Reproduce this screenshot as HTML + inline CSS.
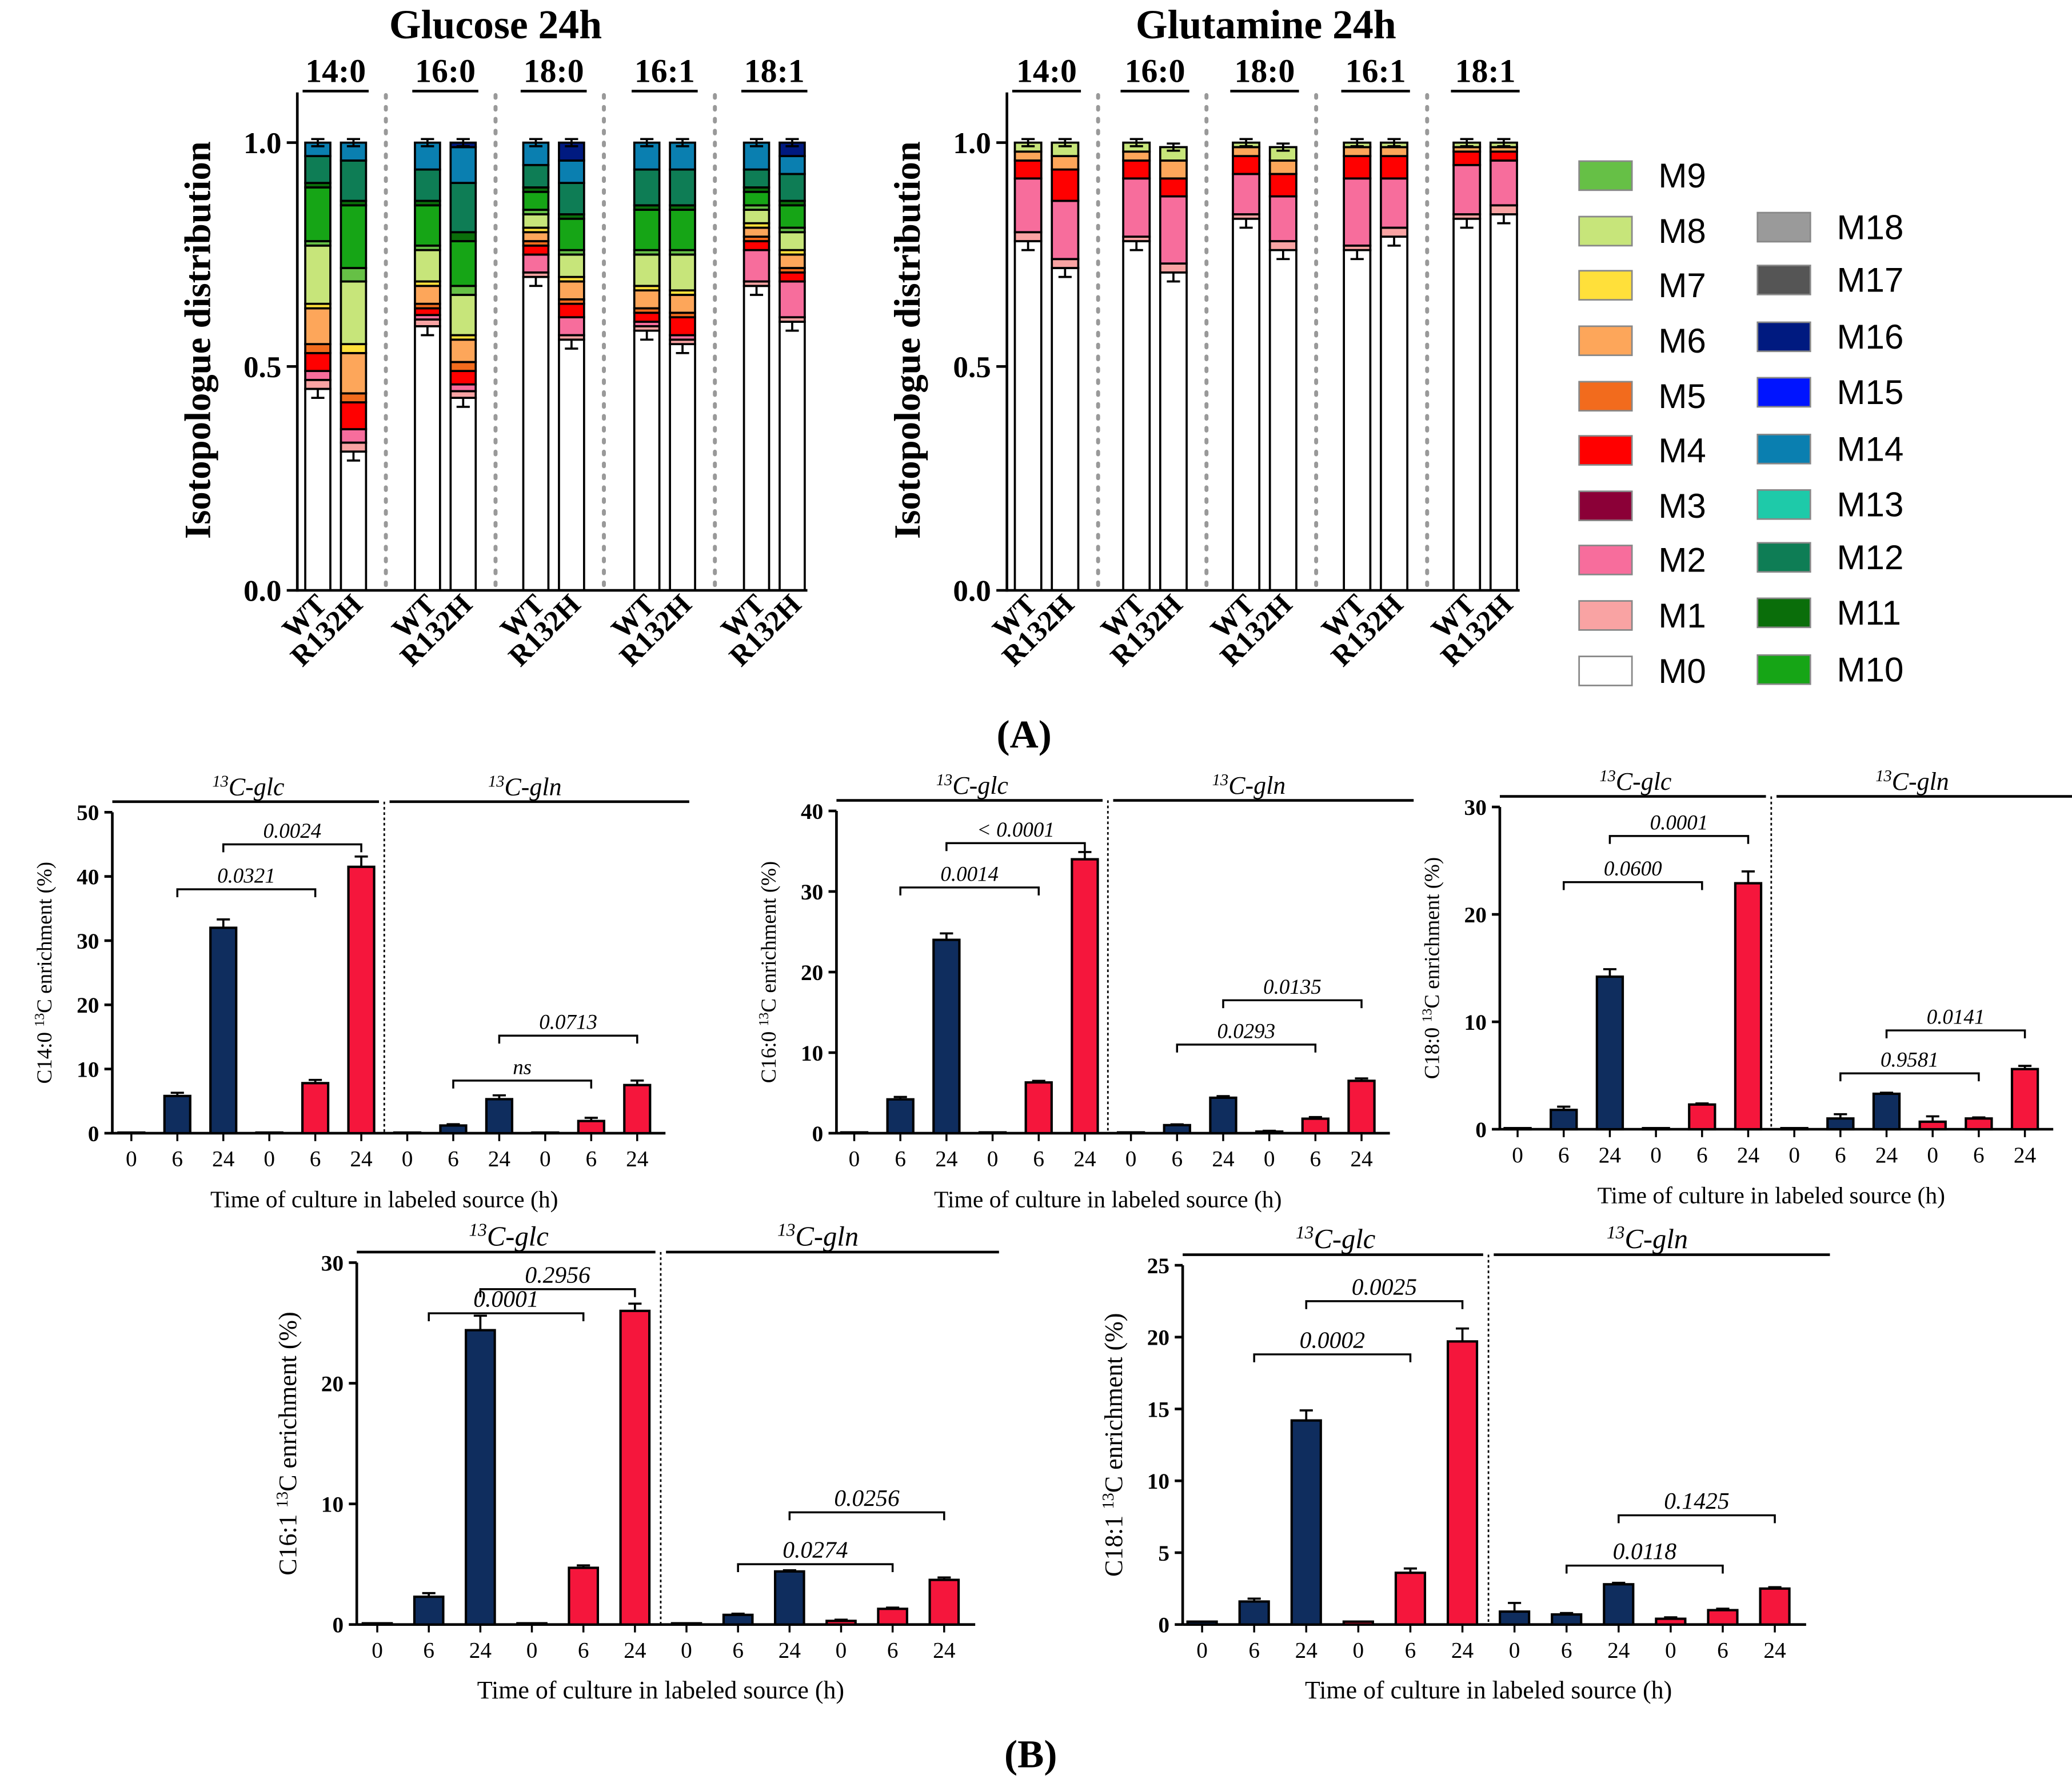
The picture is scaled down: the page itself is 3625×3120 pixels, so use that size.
<!DOCTYPE html>
<html><head><meta charset="utf-8"><style>
html,body{margin:0;padding:0;background:#fff;}
svg{display:block;font-family:"Liberation Serif",serif;}
</style></head><body>
<svg id="fig" width="3625" height="3120" viewBox="0 0 1568 1350" preserveAspectRatio="none" xmlns="http://www.w3.org/2000/svg">
<rect width="1568" height="1350" fill="#fff"/>
<g id="panelA"></g>
<g id="legend"></g>
<g id="panelB"></g>
<text x="775" y="566" text-anchor="middle" font-size="30" font-weight="bold">(A)</text>
<text x="780" y="1338" text-anchor="middle" font-size="30" font-weight="bold">(B)</text>
</svg>
<script>
// ---------- Panel A data ----------
const isoNames = ["M0","M1","M2","M3","M4","M5","M6","M7","M8","M9","M10","M11","M12","M13","M14","M15","M16","M17","M18"];
const isoColors = ["#ffffff","#f9a3a3","#f76d9c","#8b0037","#ff0000","#f26b1d","#fda65a","#ffe03a","#c7e57a","#66c046","#16a516","#0a6e0a","#0e7d55","#1ecaa9","#0a7fb0","#0014ff","#001a80","#555555","#9a9a9a"];
const lipids = ["14:0","16:0","18:0","16:1","18:1"];
const genotypes = ["WT","R132H"];
const glcOrder = [0,1,2,4,5,6,7,8,9,10,11,12,14,16];
const glcTops = [
 [.45,.47,.49,.53,.55,.63,.64,.77,.78,.90,.91,.97,1.0,1.0],
 [.31,.33,.36,.42,.44,.53,.55,.69,.72,.86,.87,.96,1.0,1.0],
 [.59,.605,.615,.63,.64,.68,.69,.76,.77,.86,.87,.94,1.0,1.0],
 [.43,.445,.46,.49,.51,.56,.57,.66,.68,.78,.80,.91,.99,1.0],
 [.70,.71,.75,.77,.78,.80,.81,.84,.85,.89,.90,.95,1.0,1.0],
 [.56,.57,.61,.64,.65,.69,.70,.75,.76,.83,.84,.91,.96,1.0],
 [.58,.59,.60,.62,.63,.67,.68,.75,.76,.85,.86,.94,1.0,1.0],
 [.55,.56,.57,.61,.62,.66,.67,.75,.76,.85,.86,.94,1.0,1.0],
 [.68,.69,.76,.78,.79,.81,.82,.85,.86,.89,.90,.94,1.0,1.0],
 [.60,.61,.69,.71,.72,.75,.76,.80,.81,.86,.87,.93,.97,1.0]
];
const glnOrder = [0,1,2,4,6,8];
const glnTops = [
 [.78,.80,.92,.96,.98,1.0],
 [.72,.74,.87,.94,.97,1.0],
 [.78,.79,.92,.96,.98,1.0],
 [.71,.73,.88,.92,.96,.99],
 [.83,.84,.93,.97,.99,1.0],
 [.76,.78,.88,.93,.96,.99],
 [.76,.77,.92,.97,.99,1.0],
 [.79,.81,.92,.97,.99,1.0],
 [.83,.84,.95,.98,.99,1.0],
 [.84,.86,.96,.98,.99,1.0]
];
const stackTicks = ["0.0","0.5","1.0"];
const NS="http://www.w3.org/2000/svg";
function el(tag,attrs,parent,text){const e=document.createElementNS(NS,tag);for(const k in attrs)e.setAttribute(k,attrs[k]);if(text!==undefined)e.textContent=text;parent.appendChild(e);return e;}

function drawStack(g,cfg,tops,order,title){
  const y=v=>cfg.y0-(cfg.y0-cfg.y1)*v;
  const t=el("text",{x:cfg.titleX,y:29,"text-anchor":"middle","font-size":31,"font-weight":"bold"},g,title);
  
  
  const yl=el("text",{transform:`translate(${cfg.ax-66},${(cfg.y0+cfg.y1)/2-20}) rotate(-90)`,"text-anchor":"middle","font-size":28,"font-weight":"bold"},g,"Isotopologue distribution");
  
  
  const ax=el("line",{x1:cfg.ax,x2:cfg.ax,y1:cfg.y0+1,y2:cfg.y1-38,stroke:"#000","stroke-width":2},g);
  
  
  stackTicks.forEach(s=>{const v=parseFloat(s);
    el("line",{x1:cfg.ax-8,x2:cfg.ax,y1:y(v),y2:y(v),stroke:"#000","stroke-width":2},g);
    const tl=el("text",{x:cfg.ax-12,y:y(v)+8,"text-anchor":"end","font-size":23,"font-weight":"bold"},g,s);
    
    
  });
  lipids.forEach((lp,li)=>{
    const gx=cfg.groups[li];
    const ht=el("text",{x:gx+cfg.bw+4,y:62,"text-anchor":"middle","font-size":25,"font-weight":"bold"},g,lp);
    
    
    el("line",{x1:gx-2,x2:gx+2*cfg.bw+10,y1:69,y2:69,stroke:"#000","stroke-width":2},g);
    if(li<4){const d=el("line",{x1:gx+2*cfg.bw+23,x2:gx+2*cfg.bw+23,y1:72,y2:cfg.y0,stroke:"#999","stroke-width":3,"stroke-dasharray":"2,7","stroke-linecap":"round"},g);
      
      }
    genotypes.forEach((gt,gi)=>{
      const bi=li*2+gi; const bx=gx+gi*(cfg.bw+8);
      let prev=0;
      tops[bi].forEach((tp,k)=>{
        const r=el("rect",{x:bx,y:y(tp),width:cfg.bw,height:Math.max(0,y(prev)-y(tp)),fill:isoColors[order[k]],stroke:"#000","stroke-width":1.6},g);
        
        
        if(k===0||k===tops[bi].length-1){const e=(k===0?0.02:0.008);const cx=bx+cfg.bw/2;
          el("line",{x1:cx,x2:cx,y1:y(tp+e),y2:y(tp-e),stroke:"#000","stroke-width":1.6},g);
          el("line",{x1:cx-5,x2:cx+5,y1:y(tp+e),y2:y(tp+e),stroke:"#000","stroke-width":1.6},g);
          el("line",{x1:cx-5,x2:cx+5,y1:y(tp-e),y2:y(tp-e),stroke:"#000","stroke-width":1.6},g);}
        prev=tp;
      });
      const xl=el("text",{transform:`translate(${bx+cfg.bw/2+8},${cfg.y0+12}) rotate(-45)`,"text-anchor":"end","font-size":22,"font-weight":"bold"},g,gt);
      
      
    });
  });
  el("line",{x1:cfg.ax,x2:cfg.groups[4]+2*cfg.bw+10,y1:cfg.y0,y2:cfg.y0,stroke:"#000","stroke-width":2},g);
}
const pA=document.getElementById("panelA");
drawStack(pA,{ax:225,y0:447,y1:108,bw:19,titleX:375,groups:[231,314,396,480,563]},glcTops,glcOrder,"Glucose 24h");
drawStack(pA,{ax:762,y0:447,y1:108,bw:20,titleX:958,groups:[768,850,933,1017,1100]},glnTops,glnOrder,"Glutamine 24h");

// legend
const leg=document.getElementById("legend");
const legLeft=[9,8,7,6,5,4,3,2,1,0], legLeftY=[133,175,216,258,300,341,383,424,466,508];
const legRight=[18,17,16,15,14,13,12,11,10], legRightY=[172,212,255,297,340,382,422,464,507];
function legItem(i,x,yy){const gg=el("g",{},leg);
  
  
  el("rect",{x:x,y:yy-11,width:40,height:22,fill:isoColors[i],stroke:"#888","stroke-width":1.2},gg);
  el("text",{x:x+60,y:yy+9,"font-size":26,"font-family":"Liberation Sans, sans-serif"},gg,isoNames[i]);}
legLeft.forEach((i,k)=>legItem(i,1195,legLeftY[k]));
legRight.forEach((i,k)=>legItem(i,1330,legRightY[k]));

// ---------- Panel B data ----------
const timeLabels = ["0","6","24","0","6","24","0","6","24","0","6","24"];
const barColors = ["#0f2d5e","#0f2d5e","#0f2d5e","#f5163c","#f5163c","#f5163c","#0f2d5e","#0f2d5e","#0f2d5e","#f5163c","#f5163c","#f5163c"];
const c14Vals = [0.1,5.8,32,0.1,7.8,41.5,0.1,1.2,5.3,0.1,1.9,7.5];
const c14Err  = [0,0.5,1.3,0,0.5,1.6,0,0.2,0.6,0,0.5,0.7];
const c16Vals = [0.1,4.2,24,0.1,6.3,34,0.1,1.0,4.4,0.2,1.8,6.5];
const c16Err  = [0,0.3,0.8,0,0.2,0.9,0,0.1,0.2,0.1,0.2,0.3];
const c18Vals = [0.1,1.8,14.2,0.1,2.3,22.9,0.1,1.0,3.3,0.7,1.0,5.6];
const c18Err  = [0,0.3,0.7,0,0.1,1.1,0,0.4,0.1,0.5,0.1,0.3];
const c161Vals = [0.1,2.3,24.4,0.1,4.7,26,0.1,0.8,4.4,0.3,1.3,3.7];
const c161Err  = [0,0.3,1.2,0,0.2,0.6,0,0.1,0.1,0.1,0.1,0.2];
const c181Vals = [0.2,1.6,14.2,0.2,3.6,19.7,0.9,0.7,2.8,0.4,1.0,2.5];
const c181Err  = [0,0.2,0.7,0,0.3,0.9,0.6,0.1,0.1,0.1,0.1,0.1];
const c14Ticks=[0,10,20,30,40,50], c16Ticks=[0,10,20,30,40], c18Ticks=[0,10,20,30], c161Ticks=[0,10,20,30], c181Ticks=[0,5,10,15,20,25];
// brackets: [fromBar,toBar,value,label]
const c14Brk=[[1,4,38,"0.0321"],[2,5,45,"0.0024"],[7,10,8.2,"ns"],[8,11,15.2,"0.0713"]];
const c16Brk=[[1,4,30.5,"0.0014"],[2,5,36,"< 0.0001"],[7,10,11,"0.0293"],[8,11,16.5,"0.0135"]];
const c18Brk=[[1,4,23,"0.0600"],[2,5,27.3,"0.0001"],[7,10,5.2,"0.9581"],[8,11,9.2,"0.0141"]];
const c161Brk=[[1,4,25.8,"0.0001"],[2,5,27.8,"0.2956"],[7,10,5,"0.0274"],[8,11,9.3,"0.0256"]];
const c181Brk=[[1,4,18.8,"0.0002"],[2,5,22.5,"0.0025"],[7,10,4.1,"0.0118"],[8,11,7.6,"0.1425"]];

const pB=document.getElementById("panelB");
function drawBar(cfg){
  const g=el("g",{},pB);
  
  
  const maxT=cfg.ticks[cfg.ticks.length-1];
  const y=v=>cfg.y0-(cfg.y0-cfg.yTop)*v/maxT;
  const x=i=>cfg.x0+cfg.step*(i+0.5);
  const xEnd=cfg.x0+cfg.step*12+4;
  const ya=el("line",{x1:cfg.ax,x2:cfg.ax,y1:cfg.y0,y2:cfg.yTop,stroke:"#000","stroke-width":2},g);
  
  
  const xa=el("line",{x1:cfg.ax,x2:xEnd,y1:cfg.y0,y2:cfg.y0,stroke:"#000","stroke-width":2},g);
  
  
  cfg.ticks.forEach(v=>{
    el("line",{x1:cfg.ax-6,x2:cfg.ax,y1:y(v),y2:y(v),stroke:"#000","stroke-width":2},g);
    const t=el("text",{x:cfg.ax-10,y:y(v)+6,"text-anchor":"end","font-size":17,"font-weight":"bold"},g,v);
    
    
  });
  const div=cfg.x0+cfg.step*6;
  const dv=el("line",{x1:div,x2:div,y1:cfg.yTop-8,y2:cfg.y0,stroke:"#000","stroke-width":1.2,"stroke-dasharray":"2,2"},g);
  
  
  el("line",{x1:cfg.ax,x2:div-4,y1:cfg.yTop-8,y2:cfg.yTop-8,stroke:"#000","stroke-width":2},g);
  el("line",{x1:div+4,x2:xEnd+18,y1:cfg.yTop-8,y2:cfg.yTop-8,stroke:"#000","stroke-width":2},g);
  const l1=el("text",{x:(cfg.ax+div)/2,y:cfg.yTop-13,"text-anchor":"middle","font-size":cfg.sfs,"font-style":"italic"},g);
  
  
  el("tspan",{"baseline-shift":"super","font-size":cfg.sfs*0.65},l1,"13");el("tspan",{},l1,"C-glc");
  const l2=el("text",{x:(div+xEnd)/2,y:cfg.yTop-13,"text-anchor":"middle","font-size":cfg.sfs,"font-style":"italic"},g);
  
  
  el("tspan",{"baseline-shift":"super","font-size":cfg.sfs*0.65},l2,"13");el("tspan",{},l2,"C-gln");
  cfg.vals.forEach((v,i)=>{
    const bw=cfg.step*0.56;
    const r=el("rect",{x:x(i)-bw/2,y:y(v),width:bw,height:cfg.y0-y(v),fill:barColors[i],stroke:"#000","stroke-width":1.8},g);
    
    
    const e=cfg.err[i];
    if(e>0){el("line",{x1:x(i),x2:x(i),y1:y(v),y2:y(v+e),stroke:"#000","stroke-width":1.6},g);
      el("line",{x1:x(i)-5,x2:x(i)+5,y1:y(v+e),y2:y(v+e),stroke:"#000","stroke-width":1.6},g);}
    el("line",{x1:x(i),x2:x(i),y1:cfg.y0,y2:cfg.y0+6,stroke:"#000","stroke-width":1.5},g);
    const tl=el("text",{x:x(i),y:cfg.y0+25,"text-anchor":"middle","font-size":17},g,timeLabels[i]);
    
    
  });
  cfg.brk.forEach(b=>{
    const yy=y(b[2]);
    el("path",{d:`M${x(b[0])},${yy+6}V${yy}H${x(b[1])}V${yy+6}`,fill:"none",stroke:"#000","stroke-width":1.5},g);
    const t=el("text",{x:(x(b[0])+x(b[1]))/2,y:yy-5,"text-anchor":"middle","font-size":cfg.bfs,"font-style":"italic"},g,b[3]);
    
    
  });
  const xt=el("text",{x:div,y:cfg.y0+56,"text-anchor":"middle","font-size":cfg.tfs},g,"Time of culture in labeled source (h)");
  
  
  const yt=el("text",{transform:`translate(${cfg.ax-46},${(cfg.y0+cfg.yTop)/2}) rotate(-90)`,"text-anchor":"middle","font-size":cfg.yfs},g);
  
  
  el("tspan",{},yt,cfg.lipid+" ");el("tspan",{"baseline-shift":"super","font-size":cfg.yfs*0.65},yt,"13");el("tspan",{},yt,"C enrichment (%)");
}
drawBar({name:"chart-c14-0",lipid:"C14:0",ax:85,x0:82,step:34.8,y0:858,yTop:615,ticks:c14Ticks,vals:c14Vals,err:c14Err,brk:c14Brk,yfs:16,bfs:16,sfs:19,tfs:18});
drawBar({name:"chart-c16-0",lipid:"C16:0",ax:633,x0:629,step:34.9,y0:858,yTop:614,ticks:c16Ticks,vals:c16Vals,err:c16Err,brk:c16Brk,yfs:16,bfs:16,sfs:19,tfs:18});
drawBar({name:"chart-c18-0",lipid:"C18:0",ax:1135,x0:1131,step:34.9,y0:855,yTop:611,ticks:c18Ticks,vals:c18Vals,err:c18Err,brk:c18Brk,yfs:16,bfs:16,sfs:19,tfs:18});
drawBar({name:"chart-c16-1",lipid:"C16:1",ax:270,x0:266,step:39.0,y0:1230,yTop:956,ticks:c161Ticks,vals:c161Vals,err:c161Err,brk:c161Brk,yfs:19,bfs:18,sfs:21,tfs:19});
drawBar({name:"chart-c18-1",lipid:"C18:1",ax:895,x0:890,step:39.4,y0:1230,yTop:958,ticks:c181Ticks,vals:c181Vals,err:c181Err,brk:c181Brk,yfs:19,bfs:18,sfs:21,tfs:19});
</script>
</body></html>
